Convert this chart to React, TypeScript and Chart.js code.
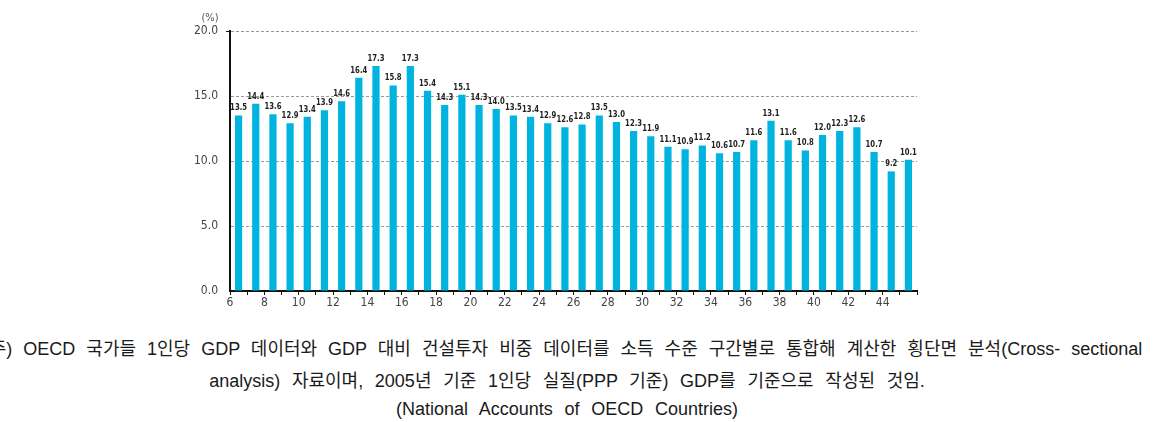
import React, { useEffect, useRef } from 'react';
import { Chart, registerables } from 'chart.js';

Chart.register(...registerables);

// Income bin starts (each bar spans [start, start+1])
const binStarts: number[] = [
  6, 7, 8, 9, 10, 11, 12, 13, 14, 15, 16, 17, 18, 19, 20, 21, 22, 23, 24, 25,
  26, 27, 28, 29, 30, 31, 32, 33, 34, 35, 36, 37, 38, 39, 40, 41, 42, 43, 44, 45,
];

// Construction investment share of GDP (%)
const shares: number[] = [
  13.5, 14.4, 13.6, 12.9, 13.4, 13.9, 14.6, 16.4, 17.3, 15.8,
  17.3, 15.4, 14.3, 15.1, 14.3, 14.0, 13.5, 13.4, 12.9, 12.6,
  12.8, 13.5, 13.0, 12.3, 11.9, 11.1, 10.9, 11.2, 10.6, 10.7,
  11.6, 13.1, 11.6, 10.8, 12.0, 12.3, 12.6, 10.7, 9.2, 10.1,
];

const xTickLabels: number[] = [6, 8, 10, 12, 14, 16, 18, 20, 22, 24, 26, 28, 30, 32, 34, 36, 38, 40, 42, 44];
const yMin = 0;
const yMax = 20;
const yStep = 5;
const unitLabel = '(%)';

const captionLines: string[] = [
  '주) OECD 국가들 1인당 GDP 데이터와 GDP 대비 건설투자 비중 데이터를 소득 수준 구간별로 통합해 계산한 횡단면 분석(Cross- sectional',
  'analysis) 자료이며, 2005년 기준 1인당 실질(PPP 기준) GDP를 기준으로 작성된 것임.',
  '(National Accounts of OECD Countries)',
];

const NARROW = '"Liberation Sans Narrow", "DejaVu Sans Condensed", "Liberation Sans", sans-serif';

const extrasPlugin = {
  id: 'extras',
  afterDatasetsDraw(chart: any) {
    const ctx = chart.ctx;
    const meta = chart.getDatasetMeta(0);
    ctx.save();
    ctx.font = 'bold 9px ' + NARROW;
    ctx.fillStyle = '#222';
    ctx.textAlign = 'center';
    ctx.textBaseline = 'bottom';
    meta.data.forEach((el: any, i: number) => {
      ctx.save();
      ctx.translate(el.x, el.y - 3);
      ctx.scale(0.85, 1);
      ctx.fillText(shares[i].toFixed(1), 0, 0);
      ctx.restore();
    });
    ctx.restore();
  },
  afterDraw(chart: any) {
    const ctx = chart.ctx;
    const y = chart.scales.y;
    ctx.save();
    ctx.font = '11px ' + NARROW;
    ctx.fillStyle = '#555';
    ctx.textAlign = 'center';
    ctx.textBaseline = 'middle';
    ctx.fillText(unitLabel, y.left + 60, y.top - 13);
    ctx.restore();
  },
};

function ChartCanvas() {
  const ref = useRef<HTMLCanvasElement | null>(null);
  useEffect(() => {
    if (!ref.current) return;
    const chart = new Chart(ref.current, {
      type: 'bar',
      data: {
        datasets: [
          {
            data: binStarts.map((b, i) => ({ x: b + 0.5, y: shares[i] })),
            backgroundColor: '#00b4df',
            barPercentage: 0.42,
            categoryPercentage: 1,
          } as any,
        ],
      },
      options: {
        responsive: false,
        animation: false,
        devicePixelRatio: 1,
        layout: { padding: { left: 150, right: 243, top: 31, bottom: 9 } },
        plugins: { legend: { display: false }, tooltip: { enabled: false } },
        scales: {
          x: {
            type: 'linear',
            min: 6,
            max: 46,
            offset: false,
            grid: {
              offset: false,
              drawOnChartArea: false,
              drawTicks: true,
              tickLength: 4,
              color: '#111',
              lineWidth: 1,
            },
            border: { color: '#111', width: 2 },
            ticks: {
              stepSize: 1,
              autoSkip: false,
              maxRotation: 0,
              padding: 1,
              color: '#444',
              font: { family: NARROW, size: 12 },
              callback: (v: any) => (xTickLabels.includes(Number(v)) ? String(v) : ''),
            },
            afterFit: (s: any) => {
              s.height = 20;
            },
          },
          y: {
            min: yMin,
            max: yMax,
            grid: {
              color: (c: any) => (c.tick && c.tick.value === 0 ? 'rgba(0,0,0,0)' : '#9a9a9a'),
              lineWidth: 1,
              drawTicks: true,
              tickLength: 4,
              tickColor: (c: any) => (c.tick && c.tick.value === yMax ? '#111' : 'rgba(0,0,0,0)'),
            },
            border: { color: '#111', width: 2, dash: [3, 2] },
            ticks: {
              stepSize: yStep,
              padding: 8,
              color: '#444',
              font: { family: NARROW, size: 12 },
              callback: (v: any) => Number(v).toFixed(1),
            },
            afterFit: (s: any) => {
              s.width = 80;
            },
          },
        },
      },
      plugins: [extrasPlugin],
    });
    return () => chart.destroy();
  }, []);
  return (
    <canvas
      ref={ref}
      width={1160}
      height={320}
      style={{ position: 'absolute', left: 0, top: 0, width: 1160, height: 320, display: 'block' }}
    />
  );
}

export default function App() {
  const lineTops = [334, 366, 394];
  const lineWordSpacing = [6.0, 6.7, 6.7];
  const lineCenters = [566, 567, 567];
  return (
    <div
      style={{
        position: 'absolute',
        left: 0,
        top: 0,
        width: 1160,
        height: 422,
        overflow: 'hidden',
        background: '#fff',
      }}
    >
      <ChartCanvas />
      {captionLines.map((line, i) => (
        <div
          key={i}
          style={{
            position: 'absolute',
            left: lineCenters[i],
            top: lineTops[i],
            transform: 'translateX(-50%)',
            whiteSpace: 'nowrap',
            fontFamily: '"Liberation Sans", "Noto Sans CJK KR", sans-serif',
            fontSize: 18,
            lineHeight: '30px',
            wordSpacing: lineWordSpacing[i],
            color: '#1a1a1a',
          }}
        >
          {line}
        </div>
      ))}
    </div>
  );
}
